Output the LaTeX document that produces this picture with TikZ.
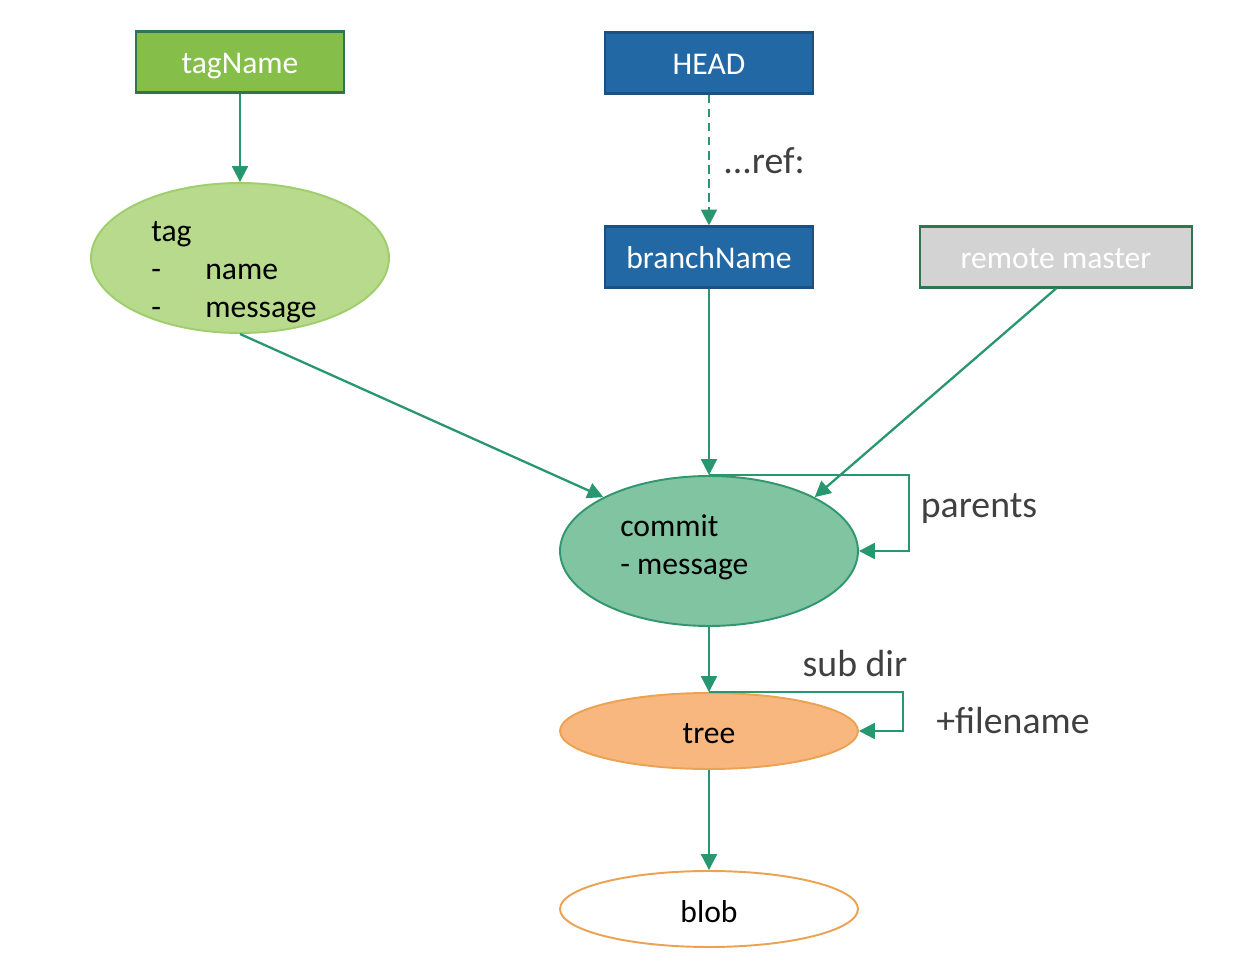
\documentclass[tikz,border=0pt]{standalone}
\usepackage{fontspec}
\setmainfont{Carlito}
\usetikzlibrary{shapes.geometric,arrows.meta}

\definecolor{tagverde}{RGB}{134,190,74}
\definecolor{bordoverde}{RGB}{46,117,80}
\definecolor{headblu}{RGB}{33,104,165}
\definecolor{bordoblu}{RGB}{28,80,128}
\definecolor{grigio}{RGB}{211,211,211}
\definecolor{tagchiaro}{RGB}{183,218,140}
\definecolor{tagbordo}{RGB}{160,205,110}
\definecolor{commitverde}{RGB}{128,196,162}
\definecolor{commitbordo}{RGB}{50,150,110}
\definecolor{arancio}{RGB}{247,183,126}
\definecolor{aranciobordo}{RGB}{235,162,82}
\definecolor{freccia}{RGB}{40,150,110}
\definecolor{testo}{RGB}{64,64,64}

\begin{document}
\begin{tikzpicture}[x=0.02cm,y=-0.02cm]
\tikzstyle{box} = [draw, line width=1.2pt, minimum width=4.16cm, minimum height=1.22cm, inner sep=0, text=white, font=\fontsize{18}{21.6}\selectfont, text height=0.46cm, text depth=0.0cm]
\tikzstyle{ell} = [draw, line width=1.1pt, ellipse, minimum width=5.96cm, inner sep=0]
\tikzstyle{arr} = [draw=freccia, line width=1.3pt, -{Triangle[length=9pt,width=9pt]}]
\tikzstyle{lbl} = [text=testo, font=\fontsize{21.5}{25}\selectfont, inner sep=0]
\tikzstyle{txt} = [align=left, anchor=west, inner sep=0, font=\fontsize{18}{21.6}\selectfont]

\useasboundingbox (0,0) rectangle (1249,963);

% Riquadri
\node[box, fill=tagverde, draw=bordoverde] (tagname) at (240,62) {tagName};
\node[box, fill=headblu, draw=bordoblu] (head) at (709,63) {HEAD};
\node[box, fill=headblu, draw=bordoblu] (branch) at (709,257) {branchName};
\node[box, fill=grigio, draw=bordoverde, minimum width=5.44cm] (remote) at (1056,257) {remote master};

% Ellissi
\node[ell, fill=tagchiaro, draw=tagbordo, minimum height=3cm] (tag) at (240,258) {};
\node[ell, fill=commitverde, draw=commitbordo, minimum height=3cm] (commit) at (709,551) {};
\node[ell, fill=arancio, draw=aranciobordo, minimum height=1.52cm] (tree) at (709,731) {};
\node[ell, fill=white, draw=aranciobordo, minimum height=1.52cm] (blob) at (709,909) {};

% Testi
\node[txt] (tagtxt) at (151,272) {tag\\\makebox[1.08cm][l]{-}name\\\makebox[1.08cm][l]{-}message};
\node[txt] (committxt) at (620,547) {commit\\- message};
\node[txt, anchor=center] (treetxt) at (709,734) {tree};
\node[txt, anchor=center] (blobtxt) at (709,912) {blob};

% Frecce
\draw[arr] (tagname) -- (tag);
\draw[arr, dashed, dash pattern=on 5pt off 3pt] (head) -- (branch);
\draw[arr] (tag.south) -- (commit.153);
\draw[arr] (branch) -- (commit);
\draw[arr] (remote.south) -- (commit.27);
\draw[arr] (commit) -- (tree);
\draw[arr] (tree) -- (blob);

% Anelli
\coordinate (ploop) at (909,551);
\coordinate (tloop) at (903,731);
\draw[arr] (commit.north) -| (ploop) -- (commit.east);
\draw[arr] (tree.north) -| (tloop) -- (tree.east);

% Etichette
\node[lbl] (ref) at (764,161) {...ref:};
\node[lbl] (parents) at (979,509) {parents};
\node[lbl] (subdir) at (855,664) {sub dir};
\node[lbl] (filename) at (1013,721) {+filename};

\end{tikzpicture}
\end{document}
